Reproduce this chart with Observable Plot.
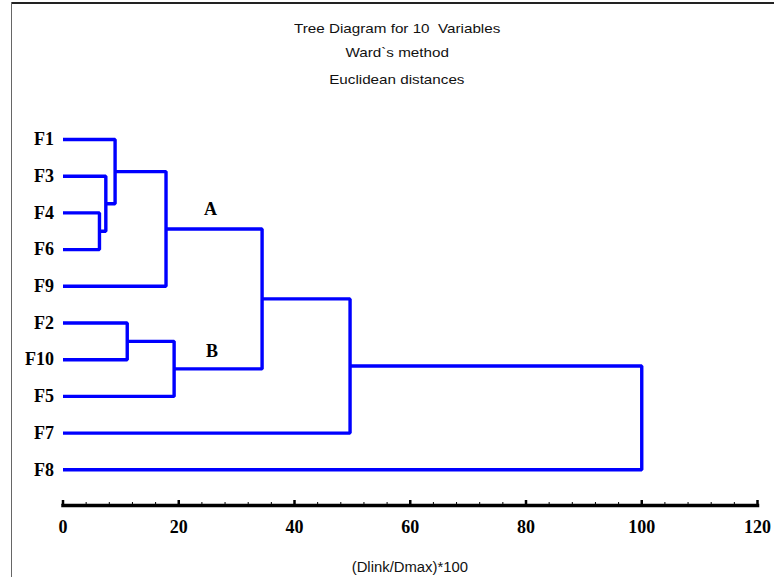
<!DOCTYPE html>
<html><head><meta charset="utf-8">
<script src="https://cdn.jsdelivr.net/npm/d3@7"></script>
<script src="https://cdn.jsdelivr.net/npm/@observablehq/plot@0.6"></script>
<style>
body{margin:0;background:#fff;}
#wrap{position:relative;width:774px;height:577px;overflow:hidden;background:#fff;}
#chart{position:absolute;left:0;top:0;}
.t{position:absolute;left:0;width:794px;text-align:center;font-family:"Liberation Sans",Arial,sans-serif;font-size:13px;line-height:13px;color:#111;white-space:pre;}
.t span{display:inline-block;transform:scaleX(1.17);}
.xl{position:absolute;left:0;width:820px;text-align:center;font-family:"Liberation Sans",Arial,sans-serif;font-size:14px;line-height:14px;color:#111;white-space:pre;}
.xl span{display:inline-block;transform:scaleX(1.06);}
#bt{position:absolute;left:11px;top:2px;width:763px;height:2px;background:#222;}
#bl{position:absolute;left:11px;top:2px;width:1px;height:575px;background:#666;}
</style></head><body>
<div id="wrap">
  <div id="chart"></div>
  <div id="bt"></div><div id="bl"></div>
</div>
<script>
// ---- data ----
const titleLines = ["Tree Diagram for 10  Variables", "Ward`s method", "Euclidean distances"];
const xAxisLabel = "(Dlink/Dmax)*100";
const leaves = ["F1","F3","F4","F6","F9","F2","F10","F5","F7","F8"];
const mergeIds   = ["c1","c2","c3","A","c5","B","AB","ABF7","root"];
const mergeLeft  = ["F4","F3","F1","c3","F2","c5","A","AB","ABF7"];
const mergeRight = ["F6","c1","c2","F9","F10","F5","B","F7","F8"];
const mergeDist  = [6.3, 7.4, 9.0, 17.8, 11.1, 19.2, 34.4, 49.6, 100];
const majorTicks = [0, 20, 40, 60, 80, 100, 120];
const minorTicks = [4, 8, 12, 16, 24, 28, 32, 36, 44, 48, 52, 56, 64, 68, 72, 76, 84, 88, 92, 96, 104, 108, 112, 116];
const groupNames = ["A", "B"];
const groupX = [25.5, 25.75];
const groupY = [1.89, 5.78];

// ---- build dendrogram paths ----
const pos = {};
leaves.forEach((name, i) => pos[name] = {x: 0, y: i});
const segs = [];
mergeIds.forEach((id, i) => {
  const l = pos[mergeLeft[i]], r = pos[mergeRight[i]], d = mergeDist[i];
  segs.push({id, x: l.x, y: l.y}, {id, x: d, y: l.y}, {id, x: d, y: r.y}, {id, x: r.x, y: r.y});
  pos[id] = {x: d, y: (l.y + r.y) / 2};
});
const leafData = leaves.map((name, i) => ({name, i}));
const groupData = groupNames.map((name, i) => ({name, x: groupX[i], y: groupY[i]}));

const serif = "'Liberation Serif','Times New Roman',serif";

const chart = Plot.plot({
  width: 774,
  height: 577,
  marginLeft: 62.5,
  marginRight: 17,
  marginTop: 0,
  marginBottom: 72,
  style: {background: "transparent", color: "black", overflow: "visible"},
  x: {domain: [0, 120], axis: null},
  y: {domain: [0, 9], range: [139, 469.3], axis: null},
  marks: [
    Plot.line(segs, {x: "x", y: "y", z: "id", stroke: "#0000ff", strokeWidth: 3.4, strokeLinejoin: "miter", strokeLinecap: "butt", curve: "linear"}),
    Plot.text(leafData, {x: () => 0, y: "i", text: "name", textAnchor: "end", dx: -9, fontFamily: serif, fontWeight: "bold", fontSize: 18, fill: "black"}),
    Plot.text(groupData, {x: "x", y: "y", text: "name", textAnchor: "middle", fontFamily: serif, fontWeight: "bold", fontSize: 18, fill: "black"}),
    Plot.frame({anchor: "bottom", stroke: "black", strokeWidth: 3.5}),
    Plot.ruleX(majorTicks, {x: d => d, insetTop: 500, stroke: "black", strokeWidth: 2.5}),
    Plot.ruleX(minorTicks, {x: d => d, insetTop: 502, stroke: "black", strokeWidth: 1}),
    Plot.axisX({ticks: majorTicks, tickSize: 0, tickPadding: 15, tickFormat: d => String(d), fontFamily: serif, fontWeight: "bold", fontSize: 18, label: null, fill: "black"})
  ]
});
document.getElementById("chart").appendChild(chart);

// ---- titles ----
const wrap = document.getElementById("wrap");
const baselines = [33, 57, 84];
titleLines.forEach((t, i) => {
  const div = document.createElement("div");
  div.className = "t";
  div.style.top = (baselines[i] - 11) + "px";
  const s = document.createElement("span");
  s.textContent = t;
  div.appendChild(s);
  wrap.appendChild(div);
});
const xl = document.createElement("div");
xl.className = "xl";
xl.style.top = (572 - 12) + "px";
const xs = document.createElement("span");
xs.textContent = xAxisLabel;
xl.appendChild(xs);
wrap.appendChild(xl);
</script>
</body></html>
